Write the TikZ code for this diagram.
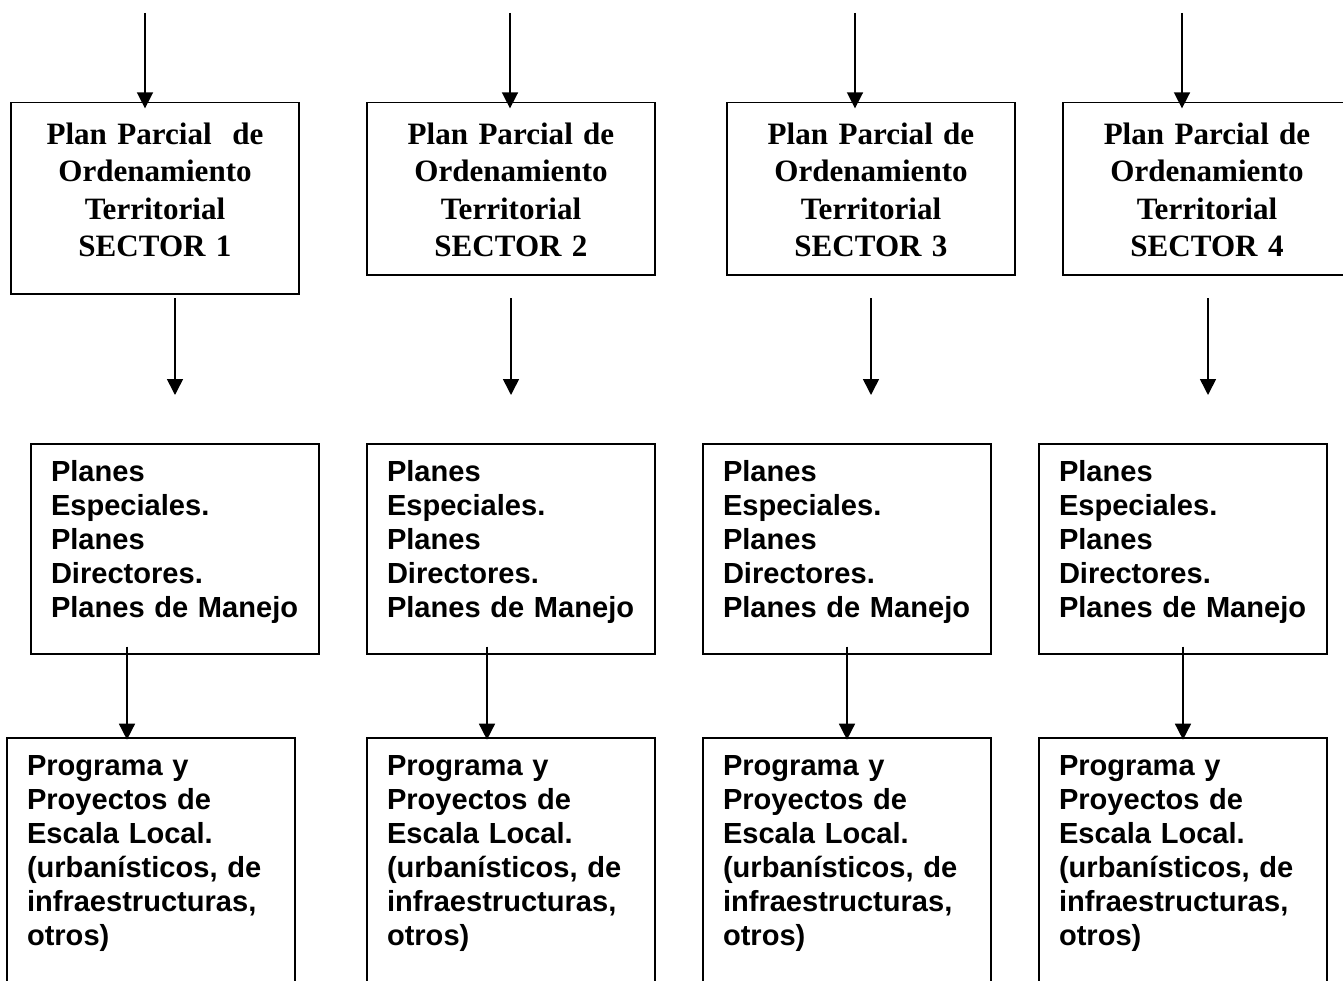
\documentclass[tikz,border=0pt]{standalone}
\usepackage{fontspec}
\setmainfont{Liberation Sans}
\newfontfamily\ppserif{Liberation Serif}
\usepackage{tikz}
\usetikzlibrary{arrows.meta,positioning}

\begin{document}
\begin{tikzpicture}[
  x=0.75pt, y=-0.75pt,
  every node/.style={inner sep=0pt},
  plan/.style={draw, line width=1.2pt, anchor=north, text width=216pt,
               align=center, text height=31.2pt, text depth=98pt,
               font=\ppserif\bfseries\fontsize{23.3pt}{28.2pt}\selectfont},
  planes/.style={draw, line width=1.2pt, anchor=north, text width=186pt,
                 inner xsep=15pt, align=left, text height=28.3pt,
                 text depth=129.2pt,
                 font=\bfseries\fontsize{21.8pt}{25.5pt}\selectfont},
  proyectos/.style={planes, text height=28.5pt, text depth=170pt},
  flow/.style={line width=1.2pt, -{Triangle[width=12pt,length=12pt]}},
]
  \useasboundingbox (0,0) rectangle (1343,981);

  % planes parciales
  \node[plan, text depth=112.3pt] (ppot1) at (155,101.7)
    {Plan Parcial~ de\\Ordenamiento\\Territorial\\SECTOR 1};
  \node[plan] (ppot2) at (511,101.7)
    {Plan Parcial de\\Ordenamiento\\Territorial\\SECTOR 2};
  \node[plan] (ppot3) at (871,101.7)
    {Plan Parcial de\\Ordenamiento\\Territorial\\SECTOR 3};
  \node[plan] (ppot4) at (1207,101.7)
    {Plan Parcial de\\Ordenamiento\\Territorial\\SECTOR 4};

  % planes especiales, directores, de manejo
  \node[planes] (pe1) at (175,443)
    {Planes\\Especiales.\\Planes\\Directores.\\Planes de Manejo};
  \node[planes] (pe2) at (511,443)
    {Planes\\Especiales.\\Planes\\Directores.\\Planes de Manejo};
  \node[planes] (pe3) at (847,443)
    {Planes\\Especiales.\\Planes\\Directores.\\Planes de Manejo};
  \node[planes] (pe4) at (1183,443)
    {Planes\\Especiales.\\Planes\\Directores.\\Planes de Manejo};

  % programas y proyectos
  \node[proyectos] (pp1) at (151,737)
    {Programa y\\Proyectos de\\Escala Local.\\(urbanísticos, de\\infraestructuras,\\otros)};
  \node[proyectos] (pp2) at (511,737)
    {Programa y\\Proyectos de\\Escala Local.\\(urbanísticos, de\\infraestructuras,\\otros)};
  \node[proyectos] (pp3) at (847,737)
    {Programa y\\Proyectos de\\Escala Local.\\(urbanísticos, de\\infraestructuras,\\otros)};
  \node[proyectos] (pp4) at (1183,737)
    {Programa y\\Proyectos de\\Escala Local.\\(urbanísticos, de\\infraestructuras,\\otros)};

  % free ends
  \coordinate (in1) at (145,13);
  \coordinate (in2) at (510,13);
  \coordinate (in3) at (855,13);
  \coordinate (in4) at (1182,13);
  \coordinate (a1) at (175,298);  \coordinate (b1) at (175,395);
  \coordinate (a2) at (511,298);  \coordinate (b2) at (511,395);
  \coordinate (a3) at (871,298);  \coordinate (b3) at (871,395);
  \coordinate (a4) at (1208,298); \coordinate (b4) at (1208,395);
  \coordinate (c1) at (127,0);
  \coordinate (c2) at (487,0);
  \coordinate (c3) at (847,0);
  \coordinate (c4) at (1183,0);

  \draw[flow, shorten >=-5pt] (in1) -- (in1 |- ppot1.north);
  \draw[flow, shorten >=-5pt] (in2) -- (in2 |- ppot2.north);
  \draw[flow, shorten >=-5pt] (in3) -- (in3 |- ppot3.north);
  \draw[flow, shorten >=-5pt] (in4) -- (in4 |- ppot4.north);

  \draw[flow] (a1) -- (b1);
  \draw[flow] (a2) -- (b2);
  \draw[flow] (a3) -- (b3);
  \draw[flow] (a4) -- (b4);

  \draw[flow, shorten <=-6pt, shorten >=-2pt] (c1 |- pe1.south) -- (c1 |- pp1.north);
  \draw[flow, shorten <=-6pt, shorten >=-2pt] (c2 |- pe2.south) -- (c2 |- pp2.north);
  \draw[flow, shorten <=-6pt, shorten >=-2pt] (c3 |- pe3.south) -- (c3 |- pp3.north);
  \draw[flow, shorten <=-6pt, shorten >=-2pt] (c4 |- pe4.south) -- (c4 |- pp4.north);
\end{tikzpicture}
\end{document}
